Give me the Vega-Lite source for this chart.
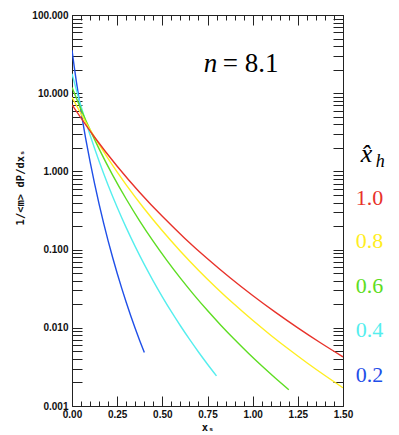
{
  "$schema": "https://vega.github.io/schema/vega-lite/v6.json",
  "autosize": {"type": "none"},
  "padding": {"left": 72, "top": 15, "right": 56, "bottom": 29},
  "width": 271,
  "height": 391,
  "background": "white",
  "config": {
    "view": {"stroke": null},
    "axis": {"domainColor": "#222", "tickColor": "#222", "domainWidth": 1, "tickWidth": 1, "grid": false,
             "labelFont": "Liberation Sans", "labelFontWeight": "bold", "labelFontSize": 10, "labelColor": "#111",
             "titleFont": "DejaVu Sans Mono", "titleFontWeight": "bold", "titleFontSize": 10.5, "titleColor": "#111"}
  },
  "datasets": {
    "curves": [
      {"h": "0.2", "x": 0, "y": 35.5}, {"h": "0.2", "x": 0.0125, "y": 21.73}, {"h": "0.2", "x": 0.025, "y": 13.68}, {"h": "0.2", "x": 0.05, "y": 5.825}, {"h": "0.2", "x": 0.075, "y": 2.692}, {"h": "0.2", "x": 0.1, "y": 1.331}, {"h": "0.2", "x": 0.125, "y": 0.6955}, {"h": "0.2", "x": 0.15, "y": 0.3817}, {"h": "0.2", "x": 0.175, "y": 0.2183}, {"h": "0.2", "x": 0.2, "y": 0.1294}, {"h": "0.2", "x": 0.225, "y": 0.0792}, {"h": "0.2", "x": 0.25, "y": 0.04984}, {"h": "0.2", "x": 0.275, "y": 0.03217}, {"h": "0.2", "x": 0.3, "y": 0.02123}, {"h": "0.2", "x": 0.325, "y": 0.0143}, {"h": "0.2", "x": 0.35, "y": 0.00981}, {"h": "0.2", "x": 0.375, "y": 0.006845}, {"h": "0.2", "x": 0.4, "y": 0.004848},
      {"h": "0.4", "x": 0, "y": 17.75}, {"h": "0.4", "x": 0.025, "y": 10.86}, {"h": "0.4", "x": 0.05, "y": 6.838}, {"h": "0.4", "x": 0.1, "y": 2.913}, {"h": "0.4", "x": 0.15, "y": 1.346}, {"h": "0.4", "x": 0.2, "y": 0.6653}, {"h": "0.4", "x": 0.25, "y": 0.3478}, {"h": "0.4", "x": 0.3, "y": 0.1908}, {"h": "0.4", "x": 0.35, "y": 0.1091}, {"h": "0.4", "x": 0.4, "y": 0.0647}, {"h": "0.4", "x": 0.45, "y": 0.0396}, {"h": "0.4", "x": 0.5, "y": 0.02492}, {"h": "0.4", "x": 0.55, "y": 0.01608}, {"h": "0.4", "x": 0.6, "y": 0.01062}, {"h": "0.4", "x": 0.65, "y": 0.00715}, {"h": "0.4", "x": 0.7, "y": 0.004905}, {"h": "0.4", "x": 0.75, "y": 0.003423}, {"h": "0.4", "x": 0.8, "y": 0.002424},
      {"h": "0.6", "x": 0, "y": 11.83}, {"h": "0.6", "x": 0.075, "y": 4.558}, {"h": "0.6", "x": 0.15, "y": 1.942}, {"h": "0.6", "x": 0.225, "y": 0.8972}, {"h": "0.6", "x": 0.3, "y": 0.4435}, {"h": "0.6", "x": 0.375, "y": 0.2318}, {"h": "0.6", "x": 0.45, "y": 0.1272}, {"h": "0.6", "x": 0.525, "y": 0.07275}, {"h": "0.6", "x": 0.6, "y": 0.04313}, {"h": "0.6", "x": 0.675, "y": 0.0264}, {"h": "0.6", "x": 0.75, "y": 0.01661}, {"h": "0.6", "x": 0.825, "y": 0.01072}, {"h": "0.6", "x": 0.9, "y": 0.007077}, {"h": "0.6", "x": 0.975, "y": 0.004767}, {"h": "0.6", "x": 1.05, "y": 0.00327}, {"h": "0.6", "x": 1.125, "y": 0.002282}, {"h": "0.6", "x": 1.2, "y": 0.001616},
      {"h": "0.8", "x": 0, "y": 8.875}, {"h": "0.8", "x": 0.1, "y": 3.419}, {"h": "0.8", "x": 0.2, "y": 1.456}, {"h": "0.8", "x": 0.3, "y": 0.6729}, {"h": "0.8", "x": 0.4, "y": 0.3326}, {"h": "0.8", "x": 0.5, "y": 0.1739}, {"h": "0.8", "x": 0.6, "y": 0.09541}, {"h": "0.8", "x": 0.7, "y": 0.05456}, {"h": "0.8", "x": 0.8, "y": 0.03235}, {"h": "0.8", "x": 0.9, "y": 0.0198}, {"h": "0.8", "x": 1.0, "y": 0.01246}, {"h": "0.8", "x": 1.1, "y": 0.008041}, {"h": "0.8", "x": 1.2, "y": 0.005308}, {"h": "0.8", "x": 1.3, "y": 0.003575}, {"h": "0.8", "x": 1.4, "y": 0.002453}, {"h": "0.8", "x": 1.5, "y": 0.001711},
      {"h": "1.0", "x": 0, "y": 7.1}, {"h": "1.0", "x": 0.125, "y": 2.735}, {"h": "1.0", "x": 0.25, "y": 1.165}, {"h": "1.0", "x": 0.375, "y": 0.5383}, {"h": "1.0", "x": 0.5, "y": 0.2661}, {"h": "1.0", "x": 0.625, "y": 0.1391}, {"h": "1.0", "x": 0.75, "y": 0.07633}, {"h": "1.0", "x": 0.875, "y": 0.04365}, {"h": "1.0", "x": 1.0, "y": 0.02588}, {"h": "1.0", "x": 1.125, "y": 0.01584}, {"h": "1.0", "x": 1.25, "y": 0.009968}, {"h": "1.0", "x": 1.375, "y": 0.006433}, {"h": "1.0", "x": 1.5, "y": 0.004246}
    ],
    "keylabels": [
      {"h": "1.0", "x": 1.647, "y": 0.371},
      {"h": "0.8", "x": 1.647, "y": 0.1047},
      {"h": "0.6", "x": 1.647, "y": 0.0279},
      {"h": "0.4", "x": 1.647, "y": 0.00762},
      {"h": "0.2", "x": 1.647, "y": 0.00203}
    ]
  },
  "resolve": {"axis": {"x": "independent", "y": "independent"}},
  "layer": [
    {
      "data": {"name": "curves"},
      "mark": {"type": "line", "strokeWidth": 1.4, "interpolate": "monotone", "clip": true},
      "encoding": {
        "x": {"field": "x", "type": "quantitative",
              "scale": {"domain": [0, 1.5], "nice": false, "zero": false},
              "axis": {"orient": "bottom", "title": "xₛ", "titlePadding": 3,
                       "values": [0, 0.25, 0.5, 0.75, 1, 1.25, 1.5], "format": ".2f",
                       "ticks": false, "tickSize": 0, "labelPadding": 3, "domain": true,
                       "labelFlush": false, "labelOverlap": false}},
        "y": {"field": "y", "type": "quantitative",
              "scale": {"type": "log", "domain": [0.001, 100], "nice": false},
              "axis": {"orient": "left", "title": "1/<m>    dP/dxₛ",
                       "titleX": -52, "titleY": 172, "titleAlign": "center", "titleBaseline": "middle", "titleAngle": -90,
                       "values": [0.001, 0.01, 0.1, 1, 10, 100], "format": ".3f",
                       "ticks": false, "tickSize": 0, "labelPadding": 4, "domain": true,
                       "labelFlush": false, "labelOverlap": false}},
        "color": {"field": "h", "type": "nominal",
                  "scale": {"domain": ["1.0", "0.8", "0.6", "0.4", "0.2"], "range": ["#e8322a", "#ffee22", "#5ddd22", "#55eeee", "#1f4fe8"]},
                  "legend": null}
      }
    },
    {
      "data": {"name": "curves"},
      "mark": {"type": "point", "opacity": 0},
      "encoding": {
        "x": {"field": "x", "type": "quantitative",
              "axis": {"orient": "bottom", "title": null, "labels": false, "domain": false, "offset": -10, "tickSize": 10,
                       "values": [0, 0.25, 0.5, 0.75, 1, 1.25, 1.5]}},
        "y": {"field": "y", "type": "quantitative",
              "axis": {"orient": "left", "title": null, "labels": false, "domain": false, "offset": -10, "tickSize": 10,
                       "values": [0.001,0.002,0.003,0.004,0.005,0.006,0.007,0.008,0.009,0.01,0.02,0.03,0.04,0.05,0.06,0.07,0.08,0.09,0.1,0.2,0.3,0.4,0.5,0.6,0.7,0.8,0.9,1,2,3,4,5,6,7,8,9,10,20,30,40,50,60,70,80,90,100]}}
      }
    },
    {
      "data": {"name": "curves"},
      "mark": {"type": "point", "opacity": 0},
      "encoding": {
        "x": {"field": "x", "type": "quantitative",
              "axis": {"orient": "bottom", "title": null, "labels": false, "domain": false, "offset": -5, "tickSize": 5,
                       "values": [0,0.05,0.1,0.15,0.2,0.25,0.3,0.35,0.4,0.45,0.5,0.55,0.6,0.65,0.7,0.75,0.8,0.85,0.9,0.95,1,1.05,1.1,1.15,1.2,1.25,1.3,1.35,1.4,1.45,1.5]}},
        "y": {"field": "y", "type": "quantitative",
              "axis": {"orient": "right", "title": null, "labels": false, "domain": true, "ticks": false, "tickSize": 0,
                       "values": [0.001, 100]}}
      }
    },
    {
      "data": {"name": "curves"},
      "mark": {"type": "point", "opacity": 0},
      "encoding": {
        "x": {"field": "x", "type": "quantitative",
              "axis": {"orient": "top", "title": null, "labels": false, "domain": true, "ticks": false, "tickSize": 0,
                       "values": [0, 1.5]}},
        "y": {"field": "y", "type": "quantitative",
              "axis": {"orient": "right", "title": null, "labels": false, "domain": false, "offset": -10, "tickSize": 10,
                       "values": [0.001,0.002,0.003,0.004,0.005,0.006,0.007,0.008,0.009,0.01,0.02,0.03,0.04,0.05,0.06,0.07,0.08,0.09,0.1,0.2,0.3,0.4,0.5,0.6,0.7,0.8,0.9,1,2,3,4,5,6,7,8,9,10,20,30,40,50,60,70,80,90,100]}}
      }
    },
    {
      "data": {"name": "curves"},
      "mark": {"type": "point", "opacity": 0},
      "encoding": {
        "x": {"field": "x", "type": "quantitative",
              "axis": {"orient": "top", "title": null, "labels": false, "domain": false, "offset": -10, "tickSize": 10,
                       "values": [0, 0.25, 0.5, 0.75, 1, 1.25, 1.5]}},
        "y": {"field": "y", "type": "quantitative", "axis": null}
      }
    },
    {
      "data": {"name": "curves"},
      "mark": {"type": "point", "opacity": 0},
      "encoding": {
        "x": {"field": "x", "type": "quantitative",
              "axis": {"orient": "top", "title": null, "labels": false, "domain": false, "offset": -5, "tickSize": 5,
                       "values": [0,0.05,0.1,0.15,0.2,0.25,0.3,0.35,0.4,0.45,0.5,0.55,0.6,0.65,0.7,0.75,0.8,0.85,0.9,0.95,1,1.05,1.1,1.15,1.2,1.25,1.3,1.35,1.4,1.45,1.5]}},
        "y": {"field": "y", "type": "quantitative", "axis": null}
      }
    },
    {
      "data": {"values": [{"t": "n", "x": 0.729, "y": 18.7}]},
      "mark": {"type": "text", "font": "Liberation Serif, Times New Roman, serif", "fontStyle": "italic", "fontSize": 27, "align": "left", "baseline": "alphabetic", "color": "black"},
      "encoding": {
        "x": {"field": "x", "type": "quantitative", "axis": null},
        "y": {"field": "y", "type": "quantitative", "axis": null},
        "text": {"field": "t"}
      }
    },
    {
      "data": {"values": [{"t": "= 8.1", "x": 0.834, "y": 18.7}]},
      "mark": {"type": "text", "font": "Liberation Serif, Times New Roman, serif", "fontSize": 27, "align": "left", "baseline": "alphabetic", "color": "black"},
      "encoding": {
        "x": {"field": "x", "type": "quantitative", "axis": null},
        "y": {"field": "y", "type": "quantitative", "axis": null},
        "text": {"field": "t"}
      }
    },
    {
      "data": {"values": [{"t": "x̂", "x": 1.598, "y": 1.318}]},
      "mark": {"type": "text", "font": "Liberation Serif, Times New Roman, serif", "fontStyle": "italic", "fontSize": 26, "align": "left", "baseline": "alphabetic", "color": "black"},
      "encoding": {
        "x": {"field": "x", "type": "quantitative", "axis": null},
        "y": {"field": "y", "type": "quantitative", "axis": null},
        "text": {"field": "t"}
      }
    },
    {
      "data": {"values": [{"t": "h", "x": 1.681, "y": 1.139}]},
      "mark": {"type": "text", "font": "Liberation Serif, Times New Roman, serif", "fontStyle": "italic", "fontSize": 18, "align": "left", "baseline": "alphabetic", "color": "black"},
      "encoding": {
        "x": {"field": "x", "type": "quantitative", "axis": null},
        "y": {"field": "y", "type": "quantitative", "axis": null},
        "text": {"field": "t"}
      }
    },
    {
      "data": {"name": "keylabels"},
      "mark": {"type": "text", "font": "Liberation Serif, Times New Roman, serif", "fontSize": 22, "align": "center", "baseline": "alphabetic"},
      "encoding": {
        "x": {"field": "x", "type": "quantitative", "axis": null},
        "y": {"field": "y", "type": "quantitative", "axis": null},
        "text": {"field": "h"},
        "color": {"field": "h", "type": "nominal", "legend": null}
      }
    }
  ]
}
